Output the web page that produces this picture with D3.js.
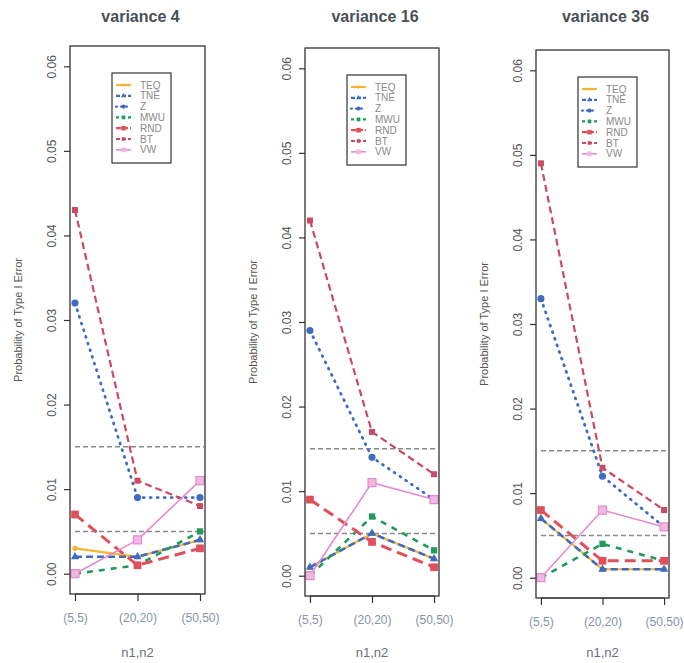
<!DOCTYPE html>
<html>
<head>
<meta charset="utf-8">
<script src="https://cdn.jsdelivr.net/npm/d3@7"></script>
<style>
  html, body { margin: 0; padding: 0; background: #fff; }
  svg { display: block; font-family: "Liberation Sans", Arial, sans-serif; }
</style>
</head>
<body>
<svg id="chart" width="684" height="663"></svg>
<script>
// ---- data ----
const panelTitles = ["variance 4", "variance 16", "variance 36"];
const sampleSizes = ["(5,5)", "(20,20)", "(50,50)"];
const yTicks = [0, 0.01, 0.02, 0.03, 0.04, 0.05, 0.06];
const boundLines = [0.005, 0.015];
const methods = ["TEQ", "TNE", "Z", "MWU", "RND", "BT", "VW"];

// type I error rates, one row per variance panel, one value per sample size
const TEQ = [[0.003, 0.002, 0.004], [0.001, 0.005, 0.002], [0.007, 0.001, 0.001]];
const TNE = [[0.002, 0.002, 0.004], [0.001, 0.005, 0.002], [0.007, 0.001, 0.001]];
const Z   = [[0.032, 0.009, 0.009], [0.029, 0.014, 0.009], [0.033, 0.012, 0.006]];
const MWU = [[0.000, 0.001, 0.005], [0.000, 0.007, 0.003], [0.000, 0.004, 0.002]];
const RND = [[0.007, 0.001, 0.003], [0.009, 0.004, 0.001], [0.008, 0.002, 0.002]];
const BT  = [[0.043, 0.011, 0.008], [0.042, 0.017, 0.012], [0.049, 0.013, 0.008]];
const VW  = [[0.000, 0.004, 0.011], [0.000, 0.011, 0.009], [0.000, 0.008, 0.006]];
const seriesValues = { TEQ, TNE, Z, MWU, RND, BT, VW };

// ---- styles ----
const styles = {
  TEQ: { color: "#f5b432", width: 2.2, dash: null,    legDash: null,  symbol: "circle",   size: 22 },
  TNE: { color: "#3f6cc2", width: 2.6, dash: "7,4",   legDash: "4,2", symbol: "triangle", size: 30 },
  Z:   { color: "#3f6cc2", width: 2.8, dash: "1,6",   legDash: "1,4", symbol: "circle",   size: 40, cap: "round" },
  MWU: { color: "#1f9c5c", width: 2.6, dash: "6,6",   legDash: "3,3", symbol: "square",   size: 40 },
  RND: { color: "#e0505c", width: 3.0, dash: "11,6",  legDash: "5,2", symbol: "square",   size: 60 },
  BT:  { color: "#c94a62", width: 2.2, dash: "7,4",   legDash: "4,2", symbol: "square",   size: 36 },
  VW:  { color: "#e68ad0", width: 1.6, dash: null,    legDash: null,  symbol: "square",   size: 64, fill: "#f2b8e4" }
};
const symbolTypes = { circle: d3.symbolCircle, triangle: d3.symbolTriangle, square: d3.symbolSquare };

// ---- layout ----
const panels = [
  { left: 70,  right: 205, top: 46, bottom: 594 },
  { left: 305, right: 439, top: 48, bottom: 596 },
  { left: 536, right: 669, top: 50, bottom: 598 }
];

const svg = d3.select("#chart");

panels.forEach((p, pi) => {
  const g = svg.append("g");
  const x = d3.scaleLinear().domain([0.92, 3.08]).range([p.left, p.right]);
  const y = d3.scaleLinear().domain([-0.0024, 0.0624]).range([p.bottom, p.top]);

  // title
  g.append("text")
    .attr("x", (p.left + p.right) / 2 + 3).attr("y", 22)
    .attr("text-anchor", "middle")
    .attr("font-size", 16).attr("font-weight", "bold")
    .attr("fill", "#4a4f57")
    .text(panelTitles[pi]);

  // y axis
  const yAxis = g.append("g")
    .attr("transform", `translate(${p.left},0)`)
    .call(d3.axisLeft(y).tickValues(yTicks).tickSize(6).tickFormat(d3.format(".2f")));
  yAxis.select(".domain").remove();
  yAxis.selectAll(".tick line").attr("stroke", "#333").attr("stroke-width", 1.2);
  yAxis.selectAll(".tick text")
    .attr("fill", "#555").attr("font-size", 12)
    .attr("transform", "rotate(-90)")
    .attr("x", 0).attr("y", -14)
    .attr("dy", 0)
    .attr("text-anchor", "middle");

  // x axis
  const xAxis = g.append("g")
    .attr("transform", `translate(0,${p.bottom})`)
    .call(d3.axisBottom(x).tickValues([1, 2, 3]).tickSize(7)
      .tickFormat((d, i) => sampleSizes[i]));
  xAxis.select(".domain").attr("d", `M${x(1)},0H${x(3)}`).attr("stroke", "#333").attr("stroke-width", 1.2);
  xAxis.selectAll(".tick line").attr("stroke", "#333").attr("stroke-width", 1.2);
  xAxis.selectAll(".tick text")
    .attr("fill", "#8893a8").attr("font-size", 12)
    .attr("y", 24).attr("dy", "0.32em");

  // axis titles
  g.append("text")
    .attr("x", (p.left + p.right) / 2).attr("y", 657)
    .attr("text-anchor", "middle").attr("font-size", 13)
    .attr("fill", "#6a7080")
    .text("n1,n2");
  g.append("text")
    .attr("transform", `translate(${p.left - 48},${(p.top + p.bottom) / 2}) rotate(-90)`)
    .attr("text-anchor", "middle").attr("font-size", 11)
    .attr("fill", "#555")
    .text("Probability of Type I Error");

  // nominal bounds
  boundLines.forEach(b => {
    g.append("line")
      .attr("x1", x(1)).attr("x2", p.right - 1)
      .attr("y1", y(b)).attr("y2", y(b))
      .attr("stroke", "#8a8a8a").attr("stroke-width", 1.5)
      .attr("stroke-dasharray", "5,3");
  });

  // series
  const line = d3.line().x((d, i) => x(i + 1)).y(d => y(d));
  methods.forEach(m => {
    const s = styles[m];
    const vals = seriesValues[m][pi];
    g.append("path")
      .attr("d", line(vals))
      .attr("fill", "none")
      .attr("stroke", s.color)
      .attr("stroke-width", s.width)
      .attr("stroke-linecap", s.cap || "butt")
      .attr("stroke-dasharray", s.dash);
    g.selectAll(null).data(vals).join("path")
      .attr("transform", (d, i) => `translate(${x(i + 1)},${y(d)})`)
      .attr("d", d3.symbol().type(symbolTypes[s.symbol]).size(s.size))
      .attr("fill", s.fill || s.color)
      .attr("stroke", s.color)
      .attr("stroke-width", s.fill ? 1.2 : 0);
  });

  // plot frame
  g.append("rect")
    .attr("x", p.left).attr("y", p.top)
    .attr("width", p.right - p.left).attr("height", p.bottom - p.top)
    .attr("fill", "none").attr("stroke", "#333").attr("stroke-width", 1.3);

  // legend
  const lx = p.left + 42, ly = p.top + 27, lw = 59, lh = 90;
  const lg = g.append("g");
  lg.append("rect")
    .attr("x", lx).attr("y", ly).attr("width", lw).attr("height", lh)
    .attr("fill", "#fff").attr("stroke", "#333").attr("stroke-width", 1.2);
  methods.forEach((m, i) => {
    const s = styles[m];
    const ry = ly + 12 + i * 10.8;
    lg.append("line")
      .attr("x1", lx + 4).attr("x2", lx + 19)
      .attr("y1", ry).attr("y2", ry)
      .attr("stroke", s.color).attr("stroke-width", Math.min(s.width, 2.2))
      .attr("stroke-linecap", s.cap || "butt")
      .attr("stroke-dasharray", s.legDash);
    lg.append("path")
      .attr("transform", `translate(${lx + 11.5},${ry})`)
      .attr("d", d3.symbol().type(symbolTypes[s.symbol]).size(s.size * 0.35))
      .attr("fill", s.fill || s.color);
    lg.append("text")
      .attr("x", lx + 28).attr("y", ry).attr("dy", "0.35em")
      .attr("font-size", 10).attr("fill", "#8a8a8a")
      .text(m);
  });
});
</script>
</body>
</html>
